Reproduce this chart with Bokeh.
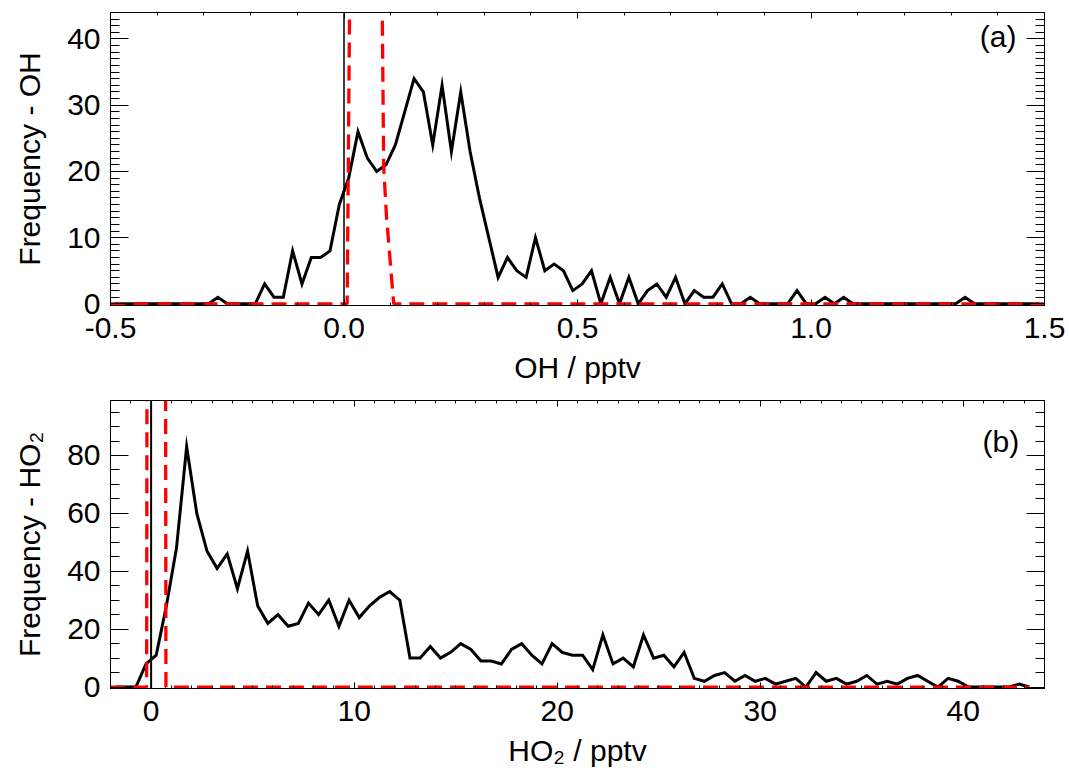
import numpy as np
from bokeh.plotting import figure
from bokeh.layouts import column
from bokeh.models import (Range1d, SingleIntervalTicker, LinearAxis, Span, Label,
                          NumeralTickFormatter, CustomLabelingPolicy)
from bokeh.embed import file_html
from bokeh.resources import INLINE

# ---------------- data ----------------
# (a) OH histogram: bins of 0.02 pptv, first centre -0.49
oh_first_bin = -0.49
oh_bin_width = 0.02
oh_counts = [0, 0, 0, 0, 0, 0, 0, 0, 0, 0, 0, 1, 0, 0, 0, 0,
             3, 1, 1, 8, 3, 7, 7, 8, 15, 19, 26, 22, 20, 21, 24, 29, 34, 32, 24, 33,
             23, 32, 23, 16, 10, 4, 7, 5, 4, 10, 5, 6, 5, 2, 3, 5, 0, 4, 0, 4,
             0, 2, 3, 1, 4, 0, 2, 1, 1, 3, 0, 0, 1,
             0, 0, 0, 0, 2, 0, 0, 1, 0, 1, 0, 0, 0, 0, 0, 0, 0, 0, 0, 0, 0, 0,
             1, 0, 0, 0, 0, 0, 0, 0, 0]
# (a) fitted noise distribution (red dashed)
oh_fit_x = [-0.5, 0.0068, 0.045, 0.085, 0.091, 0.1065, 1.5]
oh_fit_y = [0, 0, 330, 20.7, 13.2, 0, 0]

# (b) HO2 histogram: bins of 0.5 pptv, first centre -1.75
ho2_first_bin = -1.75
ho2_bin_width = 0.5
ho2_counts = [0, 0, 0,
              8, 11, 28, 48, 83, 60, 47, 41, 46, 34,
              47, 28, 22, 25, 21, 22, 29, 25, 30, 21,
              30, 24, 28, 31, 33, 30, 10, 10, 14, 10,
              12, 15, 13, 9, 9, 8, 13, 15, 11, 8,
              15, 12, 11, 11, 6, 18, 8, 10, 7, 18,
              10, 11, 7, 12, 3, 2, 4, 5, 2, 4,
              2, 3, 1, 2, 3, 0, 5, 2, 3, 1,
              2, 4, 1, 2, 1, 3, 4, 2, 0, 3,
              2, 0, 0, 0, 0, 0, 1, 0]
ho2_fit_x = [-2.0, -0.22, 0.25, 0.73, 43.25]
ho2_fit_y = [0, 0, 3000, 0, 0]

oh_x = np.round(oh_first_bin + oh_bin_width * np.arange(len(oh_counts)), 3)
ho2_x = ho2_first_bin + ho2_bin_width * np.arange(len(ho2_counts))

FONT = "Liberation Sans"
FS = "30px"


def hidden_axis(ticker, maj, mnr):
    return LinearAxis(ticker=ticker,
                      major_label_policy=CustomLabelingPolicy(code="return new Set()"),
                      major_label_standoff=0, axis_label=None,
                      major_tick_in=maj, major_tick_out=0,
                      minor_tick_in=mnr, minor_tick_out=0,
                      axis_line_color="black", major_tick_line_color="black",
                      minor_tick_line_color="black")


def style(p, xt, yt, xmaj, xmin, ymaj, ymin, xlabel, ylabel, xfmt=None):
    p.outline_line_color = "black"
    p.grid.visible = False
    p.xaxis.ticker = xt
    p.yaxis.ticker = yt
    if xfmt is not None:
        p.xaxis.formatter = xfmt
    for ax, maj, mnr in ((p.xaxis[0], xmaj, xmin), (p.yaxis[0], ymaj, ymin)):
        ax.major_tick_in = maj
        ax.major_tick_out = 0
        ax.minor_tick_in = mnr
        ax.minor_tick_out = 0
        ax.axis_line_color = "black"
        ax.major_tick_line_color = "black"
        ax.minor_tick_line_color = "black"
        ax.major_label_text_font = FONT
        ax.major_label_text_font_size = FS
        ax.major_label_text_color = "black"
        ax.axis_label_text_font = FONT
        ax.axis_label_text_font_size = FS
        ax.axis_label_text_font_style = "normal"
        ax.axis_label_text_color = "black"
    p.xaxis.axis_label = xlabel
    p.yaxis.axis_label = ylabel
    p.xaxis.major_label_standoff = 12
    p.xaxis.axis_label_standoff = 10
    p.yaxis.major_label_standoff = 10
    p.yaxis.axis_label_standoff = 18
    p.add_layout(hidden_axis(xt, xmaj, xmin), "above")
    p.add_layout(hidden_axis(yt, ymaj, ymin), "right")


# ---------------- panel (a) ----------------
p1 = figure(width=1069, height=389, x_range=Range1d(-0.5, 1.5), y_range=Range1d(-0.25, 44),
            output_backend="svg", toolbar_location=None,
            min_border_left=110, min_border_right=23, min_border_top=12, min_border_bottom=84)
style(p1, SingleIntervalTicker(interval=0.5, num_minor_ticks=5),
      SingleIntervalTicker(interval=10, num_minor_ticks=10),
      6, 3, 18, 9, "OH / pptv", "Frequency - OH", NumeralTickFormatter(format="0.0"))
p1.add_layout(Span(location=0, dimension="height", line_color="black", line_width=1.5))
p1.line(oh_x, oh_counts, line_color="black", line_width=3, line_join="miter")
p1.line(oh_fit_x, oh_fit_y, line_color="#ff0000", line_width=3.3, line_dash="15 8")
p1.add_layout(Label(x=1.44, y=40.3, text="(a)", text_align="right", text_baseline="middle",
                    text_font=FONT, text_font_size=FS, text_color="black"))

# ---------------- panel (b) ----------------
p2 = figure(width=1069, height=384, x_range=Range1d(-2, 44), y_range=Range1d(-0.5, 99),
            output_backend="svg", toolbar_location=None,
            min_border_left=110, min_border_right=25, min_border_top=2, min_border_bottom=85)
style(p2, SingleIntervalTicker(interval=10, num_minor_ticks=10),
      SingleIntervalTicker(interval=20, num_minor_ticks=4),
      6, 3, 18, 9, "HO\u2082 / pptv", "Frequency - HO\u2082")
p2.add_layout(Span(location=0, dimension="height", line_color="black", line_width=2))
p2.line(ho2_x, ho2_counts, line_color="black", line_width=3, line_join="miter")
p2.line(ho2_fit_x, ho2_fit_y, line_color="#ff0000", line_width=3.3, line_dash="15 8")
p2.add_layout(Label(x=42.75, y=84.9, text="(b)", text_align="right", text_baseline="middle",
                    text_font=FONT, text_font_size=FS, text_color="black"))

layout = column(p1, p2, spacing=0)
open("out.html", "w").write(file_html(layout, INLINE))
